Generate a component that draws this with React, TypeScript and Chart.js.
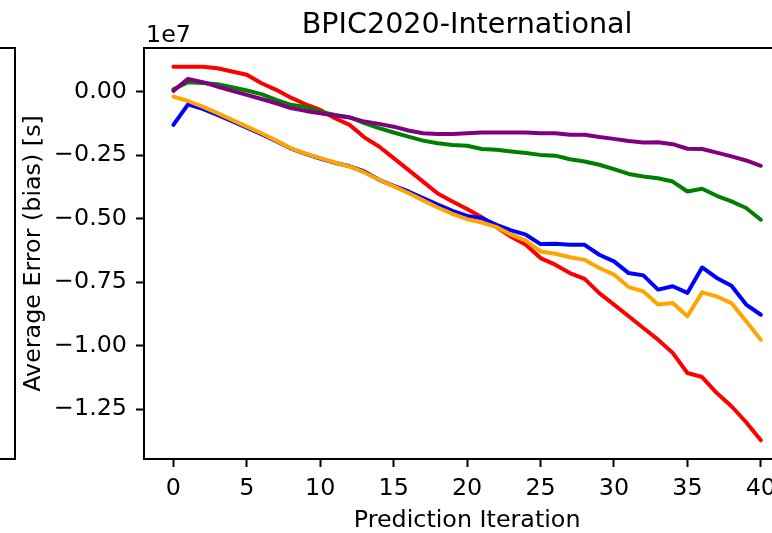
import React, { useEffect, useRef } from "react";
import { Chart, registerables } from "chart.js";

Chart.register(...registerables);

const SCALE = 1e7;

const iterations = [
  0, 1, 2, 3, 4, 5, 6, 7, 8, 9, 10, 11, 12, 13, 14, 15, 16, 17, 18, 19, 20,
  21, 22, 23, 24, 25, 26, 27, 28, 29, 30, 31, 32, 33, 34, 35, 36, 37, 38, 39, 40,
];

// values in units of 1e7 seconds
const redSeries = [
  0.098, 0.098, 0.098, 0.092, 0.079, 0.066, 0.033, 0.007, -0.024, -0.05,
  -0.072, -0.105, -0.131, -0.18, -0.216, -0.262, -0.308, -0.354, -0.401, -0.432,
  -0.462, -0.494, -0.533, -0.571, -0.603, -0.655, -0.681, -0.714, -0.737, -0.793,
  -0.838, -0.884, -0.93, -0.976, -1.028, -1.107, -1.123, -1.186, -1.238, -1.301, -1.372,
];
const greenSeries = [
  0.009, 0.037, 0.034, 0.029, 0.017, 0.004, -0.01, -0.033, -0.052, -0.061,
  -0.079, -0.092, -0.101, -0.124, -0.144, -0.161, -0.177, -0.193, -0.203, -0.21,
  -0.213, -0.226, -0.229, -0.236, -0.242, -0.249, -0.252, -0.266, -0.275, -0.288,
  -0.305, -0.324, -0.334, -0.341, -0.354, -0.393, -0.382, -0.41, -0.432, -0.458, -0.504,
];
const purpleSeries = [
  0.003, 0.05, 0.037, 0.02, 0.003, -0.013, -0.029, -0.046, -0.065, -0.076,
  -0.085, -0.094, -0.102, -0.118, -0.127, -0.138, -0.153, -0.164, -0.167, -0.167,
  -0.164, -0.161, -0.161, -0.161, -0.161, -0.164, -0.164, -0.17, -0.17, -0.179,
  -0.186, -0.194, -0.2, -0.199, -0.207, -0.225, -0.226, -0.24, -0.255, -0.271, -0.292,
];
const blueSeries = [
  -0.131, -0.05, -0.068, -0.092, -0.116, -0.142, -0.168, -0.195, -0.224, -0.245,
  -0.264, -0.28, -0.294, -0.314, -0.347, -0.371, -0.393, -0.419, -0.445, -0.469,
  -0.489, -0.498, -0.524, -0.546, -0.563, -0.6, -0.599, -0.603, -0.603, -0.642,
  -0.668, -0.714, -0.723, -0.779, -0.766, -0.792, -0.692, -0.733, -0.764, -0.838, -0.878,
];
const orangeSeries = [
  -0.02, -0.037, -0.059, -0.085, -0.111, -0.138, -0.164, -0.193, -0.223, -0.244,
  -0.262, -0.279, -0.295, -0.318, -0.347, -0.373, -0.399, -0.428, -0.456, -0.481,
  -0.502, -0.515, -0.533, -0.563, -0.586, -0.629, -0.638, -0.652, -0.662, -0.694,
  -0.72, -0.769, -0.786, -0.838, -0.832, -0.884, -0.79, -0.806, -0.832, -0.904, -0.976,
];

const xTickValues = [0, 5, 10, 15, 20, 25, 30, 35, 40];
const yTickValues = [-1.25, -1.0, -0.75, -0.5, -0.25, 0.0];

const titleText = "BPIC2020-International";
const xLabel = "Prediction Iteration";
const yLabel = "Average Error (bias) [s]";
const offsetText = "1e7";

const FONT = "'DejaVu Sans', sans-serif";

export default function App() {
  const ref = useRef<HTMLCanvasElement | null>(null);

  useEffect(() => {
    document.body.style.margin = "0";
    const canvas = ref.current;
    if (!canvas) return;

    const mk = (vals: number[]) => iterations.map((x, i) => ({ x, y: vals[i] * SCALE }));

    const decor = {
      id: "decor",
      afterDraw(chart: any) {
        const ctx = chart.ctx;
        const ca = chart.chartArea;
        const xs = chart.scales.x;
        const cx = xs.getPixelForValue(20);
        ctx.save();
        ctx.strokeStyle = "#000";
        ctx.lineWidth = 2;
        // top spine
        ctx.beginPath();
        ctx.moveTo(ca.left - 1, ca.top);
        ctx.lineTo(772, ca.top);
        ctx.stroke();
        // partial neighbouring subplot frame on the left
        ctx.beginPath();
        ctx.moveTo(0, ca.top);
        ctx.lineTo(15, ca.top);
        ctx.lineTo(15, ca.bottom);
        ctx.lineTo(0, ca.bottom);
        ctx.stroke();

        ctx.fillStyle = "#000";
        ctx.textBaseline = "alphabetic";
        ctx.font = `28.6px ${FONT}`;
        ctx.textAlign = "center";
        ctx.fillText(titleText, cx, 33);

        ctx.font = `23.8px ${FONT}`;
        ctx.fillText(xLabel, cx, 527);

        ctx.textAlign = "left";
        ctx.fillText(offsetText, ca.left + 2, 41.5);

        ctx.save();
        ctx.translate(40, (ca.top + ca.bottom) / 2);
        ctx.rotate(-Math.PI / 2);
        ctx.textAlign = "center";
        ctx.fillText(yLabel, 0, 0);
        ctx.restore();
        ctx.restore();
      },
    };

    const chart = new Chart(canvas, {
      type: "line",
      data: {
        datasets: [
          { label: "red", data: mk(redSeries), borderColor: "#ff0000", order: 5 },
          { label: "blue", data: mk(blueSeries), borderColor: "#0000ff", order: 4 },
          { label: "orange", data: mk(orangeSeries), borderColor: "#ffa500", order: 3 },
          { label: "green", data: mk(greenSeries), borderColor: "#008000", order: 2 },
          { label: "purple", data: mk(purpleSeries), borderColor: "#800080", order: 1 },
        ].map((d) => ({
          ...d,
          borderWidth: 4,
          pointRadius: 0,
          tension: 0,
          fill: false,
          borderJoinStyle: "round" as const,
          borderCapStyle: "round" as const,
        })),
      },
      options: {
        responsive: false,
        animation: false,
        events: [],
        layout: { autoPadding: false, padding: { top: 48, left: 0, right: 0, bottom: 0 } },
        plugins: {
          legend: { display: false },
          title: { display: false },
          tooltip: { enabled: false },
        },
        scales: {
          x: {
            type: "linear",
            min: -2,
            max: 40.76,
            afterBuildTicks: (s: any) => {
              s.ticks = xTickValues.map((v) => ({ value: v }));
            },
            afterFit: (s: any) => {
              s.height = 74;
              s.paddingLeft = 0;
              s.paddingRight = 0;
            },
            grid: {
              drawOnChartArea: false,
              drawTicks: true,
              tickLength: 8,
              tickWidth: 2,
              tickColor: "#000",
            },
            border: { display: true, color: "#000", width: 2 },
            ticks: {
              color: "#000",
              font: { family: FONT, size: 23.8 },
              padding: 8,
              maxRotation: 0,
              autoSkip: false,
              callback: (v: any) => String(v),
            },
          },
          y: {
            type: "linear",
            min: -1.4455 * SCALE,
            max: 0.1715 * SCALE,
            afterBuildTicks: (s: any) => {
              s.ticks = yTickValues.map((v) => ({ value: v * SCALE }));
            },
            afterFit: (s: any) => {
              s.width = 144;
              s.paddingTop = 0;
              s.paddingBottom = 0;
            },
            grid: {
              drawOnChartArea: false,
              drawTicks: true,
              tickLength: 8,
              tickWidth: 2,
              tickColor: "#000",
            },
            border: { display: true, color: "#000", width: 2 },
            ticks: {
              color: "#000",
              font: { family: FONT, size: 23.8 },
              padding: 9,
              autoSkip: false,
              callback: (v: any) => (Number(v) / SCALE).toFixed(2).replace("-", "\u2212"),
            },
          },
        },
      },
      plugins: [decor],
    });

    return () => chart.destroy();
  }, []);

  return (
    <div style={{ width: 772, height: 533 }}>
      <canvas ref={ref} width={772} height={533} style={{ display: "block", width: 772, height: 533 }} />
    </div>
  );
}
